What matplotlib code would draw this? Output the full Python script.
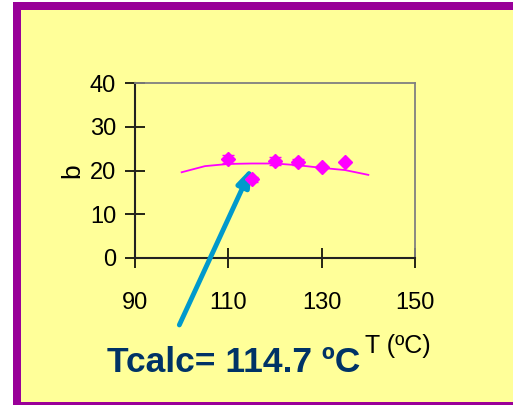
import matplotlib
matplotlib.use("Agg")
import matplotlib.pyplot as plt
from matplotlib.patches import Rectangle

plt.rcParams['font.family'] = ['Liberation Sans', 'DejaVu Sans']

# measured points
t_meas = [110, 115, 120, 125, 130, 135]
b_meas = [22.6, 18.0, 22.2, 21.9, 20.9, 22.0]
b_err = [0.9, 0.6, 0.9, 0.7, 0.0, 0.0]

# fitted curve
t_fit = [100, 105, 110, 115, 120, 125, 130, 135, 140]
b_fit = [19.6, 21.0, 21.5, 21.6, 21.6, 21.2, 20.6, 20.1, 19.0]

xticks = [90, 110, 130, 150]
yticks = [0, 10, 20, 30, 40]

W, H = 513, 405
yellow = '#FFFF99'
purple = '#990099'

fig = plt.figure(figsize=(W / 100, H / 100), dpi=100)
fig.patch.set_facecolor('white')

# slide frame
fig.patches.append(Rectangle((13 / W, 0), 1, (H - 2) / H, transform=fig.transFigure,
                             facecolor=purple, edgecolor='none', zorder=-2))
fig.patches.append(Rectangle((21 / W, 3 / H), 1, (H - 13) / H, transform=fig.transFigure,
                             facecolor=yellow, edgecolor='none', zorder=-1))

ax = fig.add_axes([135 / W, (H - 258) / H, 280 / W, 175 / H])
ax.set_facecolor(yellow)

ax.plot(t_fit, b_fit, color='#FF00FF', lw=1.3, zorder=2)
ax.errorbar(t_meas, b_meas, yerr=b_err, fmt='D', color='#FF00FF', ms=7,
            capsize=4, elinewidth=1, zorder=3)

ax.set_xlim(90, 150)
ax.set_ylim(0, 40)
ax.set_xticks(xticks)
ax.set_yticks(yticks)
ax.tick_params(direction='inout', length=15, width=1.2, labelsize=17, colors='black')
ax.tick_params(axis='x', pad=17)
ax.tick_params(axis='y', pad=6)
for s in ['left', 'bottom']:
    ax.spines[s].set_color('#222222')
    ax.spines[s].set_linewidth(1.5)
for s in ['top', 'right']:
    ax.spines[s].set_color('#808080')
    ax.spines[s].set_linewidth(1.3)

ax.set_ylabel('b', fontsize=19, labelpad=4)

ax.annotate('', xy=(115.1, 20.8), xytext=(99.5, -15.3),
            xycoords='data', textcoords='data', annotation_clip=False,
            arrowprops=dict(arrowstyle='-|>,head_length=1.1,head_width=0.38',
                            color='#0099CC', lw=3.5, shrinkA=0, shrinkB=0))

fig.text(107 / W, (H - 372) / H, 'Tcalc= 114.7 ºC', fontsize=25.5, fontweight='bold',
         color='#003366', ha='left', va='baseline')
fig.text(365 / W, (H - 353) / H, 'T (ºC)', fontsize=18, color='black',
         ha='left', va='baseline')

fig.savefig('out.png', dpi=100)
